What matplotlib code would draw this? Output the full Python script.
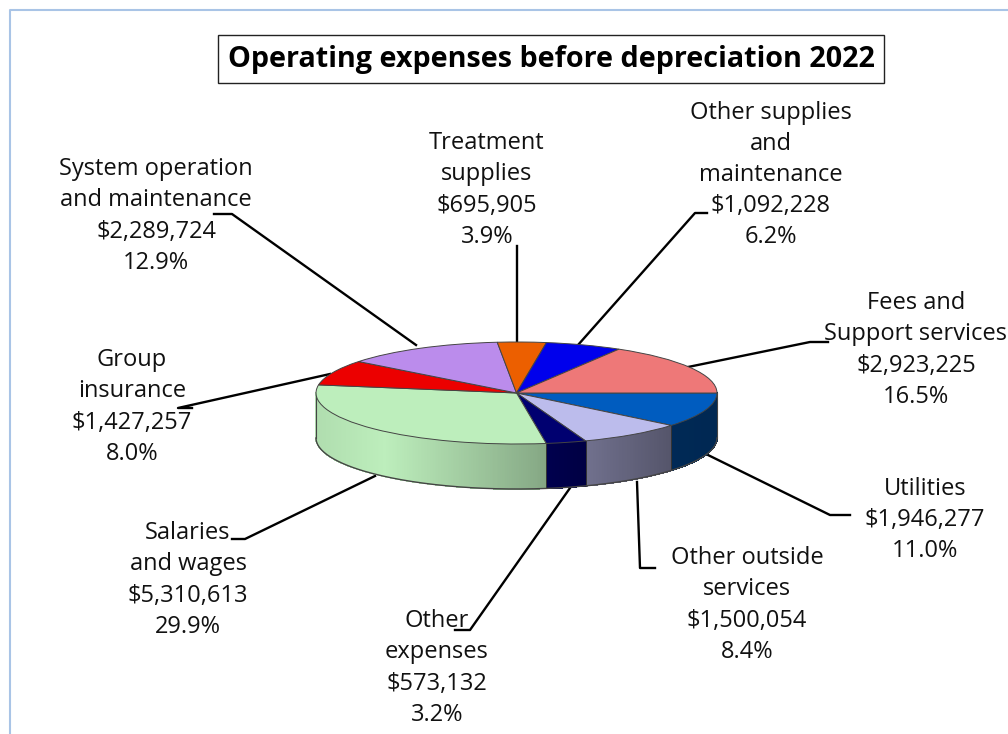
import numpy as np
import matplotlib
matplotlib.use('Agg')
import matplotlib.pyplot as plt
from matplotlib.patches import Rectangle

plt.rcParams['font.family'] = ['Open Sans', 'DejaVu Sans']

# data, clockwise from 3 o'clock
names = ['Utilities', 'Other outside\nservices', 'Other\nexpenses', 'Salaries\nand wages',
         'Group\ninsurance', 'System operation\nand maintenance', 'Treatment\nsupplies',
         'Other supplies\nand\nmaintenance', 'Fees and\nSupport services']
values = [1946277, 1500054, 573132, 5310613, 1427257, 2289724, 695905, 1092228, 2923225]
colors = ['#005cbf', '#bcbcec', '#000070', '#bdeebc', '#ec0000', '#bb8cec', '#ec5f00', '#0000ec', '#ee7878']
title = 'Operating expenses before depreciation 2022'

# label centre and leader line, in pixels
label_pos = [(925, 520), (747, 605), (437, 668), (188, 580), (132, 407), (156, 216), (487, 190), (771, 175), (916, 350)]
leaders = [
    [(850, 515), (830, 515), (708, 455)],
    [(655, 568), (640, 568), (637, 482)],
    [(455, 630), (470, 630), (570, 488)],
    [(232, 539), (245, 539), (375, 476)],
    [(192, 408), (178, 408), (330, 374)],
    [(214, 214), (232, 214), (416, 345)],
    [(517, 246), (517, 345)],
    [(707, 213), (695, 213), (578, 345)],
    [(828, 342), (810, 342), (688, 367)],
]

W, H = 1008, 734
fig = plt.figure(figsize=(W / 100, H / 100), dpi=100)

# overlay in pixel coordinates
bg = fig.add_axes([0, 0, 1, 1])
bg.set_xlim(0, W)
bg.set_ylim(H, 0)
bg.axis('off')
bg.plot([10, 10, W], [H, 10, 10], color='#a9c4e6', lw=1.5)

pct = np.array(values) / sum(values) * 100
for name, v, p, (x, y), pts in zip(names, values, pct, label_pos, leaders):
    txt = f'{name}\n${v:,}\n{p:.1f}%'
    bg.text(x, y, txt, ha='center', va='center', fontsize=17, linespacing=1.4, color='#111111', zorder=3)
    xs, ys = zip(*pts)
    bg.plot(xs, ys, color='black', lw=1.7, zorder=2)

bg.add_patch(Rectangle((218, 35), 666, 48, fc='white', ec='#222222', lw=1))
bg.text(551, 59, title, ha='center', va='center', fontsize=20.7, fontweight='bold', color='black')

# pie
left, right, top, bottom = 316, 717, 342, 444
ax = fig.add_axes([left / W, 1 - bottom / H, (right - left) / W, (bottom - top) / H], zorder=2)
ax.patch.set_alpha(0)
depth = 45 / 51


def shade(c):
    # front wall gets darker towards the right
    return np.interp(c, [-1, -0.66, 0.1, 0.34, 0.77, 1], [0.93, 1.0, 0.72, 0.6, 0.45, 0.43])


edges = -np.cumsum([0] + values) / sum(values) * 360
for i, col in enumerate(colors):
    a0, a1 = edges[i], max(edges[i + 1], -180)
    if a0 <= -180:
        continue
    th = np.linspace(a0, a1, int(abs(a1 - a0) * 2) + 2)
    rgb = np.array(matplotlib.colors.to_rgb(col))
    for t0, t1 in zip(th[:-1], th[1:]):
        tt = np.radians([t0, t1])
        c = np.cos(tt)
        s = np.sin(tt)
        f = shade(c.mean())
        ax.fill([c[0], c[1], c[1], c[0]], [s[0], s[1], s[1] - depth, s[0] - depth],
                color=rgb * f, lw=0.5, antialiased=False, clip_on=False, zorder=1)
    # wall separators
    rad = np.radians(a1)
    if a1 > -180:
        ax.plot([np.cos(rad)] * 2, [np.sin(rad), np.sin(rad) - depth], color='#333333', lw=0.7,
                clip_on=False, zorder=2)

arc = np.radians(np.linspace(0, -180, 200))
ax.plot(np.cos(arc), np.sin(arc) - depth, color='#444444', lw=1, clip_on=False, zorder=2)
ax.plot([1, 1], [0, -depth], color='#444444', lw=0.8, clip_on=False, zorder=2)
ax.plot([-1, -1], [0, -depth], color='#444444', lw=0.8, clip_on=False, zorder=2)

ax.pie(values, colors=colors, startangle=0, counterclock=False, radius=1,
       wedgeprops=dict(edgecolor='#444444', linewidth=0.7, zorder=3, clip_on=False))
ax.set_aspect('auto')
ax.set_xlim(-1, 1)
ax.set_ylim(-1, 1)

fig.savefig('out.png', dpi=100)
